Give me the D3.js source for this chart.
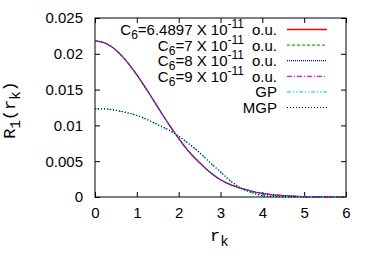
<!DOCTYPE html>
<html>
<head>
<meta charset="utf-8">
<script src="https://cdn.jsdelivr.net/npm/d3@7"></script>
<style>
  body { margin: 0; background: #fff; }
  svg { display: block; }
  .tick text { font-family: "Liberation Sans", Arial, sans-serif; font-size: 15px; }
</style>
</head>
<body>
<div id="chart"></div>
<script>
// r_k 取樣點
const rk = [0, 0.25, 0.5, 0.75, 1, 1.25, 1.5, 1.75, 2, 2.25, 2.5, 2.75, 3, 3.25, 3.5, 3.75, 4, 4.25, 4.5, 5, 5.5, 6];

// 四條 C6 曲線幾乎重疊
const c6a = [0.0218, 0.02147, 0.02051, 0.01899, 0.01706, 0.01487, 0.01256, 0.01029, 0.00818, 0.0063, 0.0048, 0.00345, 0.0024, 0.0017, 0.0012, 0.0008, 0.0005, 0.0003, 0.0002, 0.00005, 0.00001, 0];
const c6b = [0.0218, 0.02147, 0.02051, 0.01899, 0.01706, 0.01487, 0.01256, 0.01029, 0.00818, 0.0063, 0.0048, 0.00345, 0.0024, 0.0017, 0.0012, 0.0008, 0.0005, 0.0003, 0.0002, 0.00005, 0.00001, 0];
const c6c = [0.0218, 0.02147, 0.02051, 0.01899, 0.01706, 0.01487, 0.01256, 0.01029, 0.00818, 0.0063, 0.0048, 0.00345, 0.0024, 0.0017, 0.0012, 0.0008, 0.0005, 0.0003, 0.0002, 0.00005, 0.00001, 0];
const c6d = [0.0218, 0.02147, 0.02051, 0.01899, 0.01706, 0.01487, 0.01256, 0.01029, 0.00818, 0.0063, 0.0048, 0.00345, 0.0024, 0.0017, 0.0012, 0.0008, 0.0005, 0.0003, 0.0002, 0.00005, 0.00001, 0];
const gp  = [0.0123, 0.0123, 0.0121, 0.0118, 0.0114, 0.0108, 0.0101, 0.0094, 0.0085, 0.0074, 0.0062, 0.0048, 0.0035, 0.0022, 0.0012, 0.0006, 0.0002, 0.00008, 0.00002, 0, 0, 0];
const mgp = [0.0123, 0.0123, 0.0121, 0.0118, 0.0114, 0.0108, 0.0101, 0.0094, 0.0085, 0.0074, 0.0062, 0.0048, 0.0035, 0.0022, 0.0012, 0.0006, 0.0002, 0.00008, 0.00002, 0, 0, 0];

const xTicks = [0, 1, 2, 3, 4, 5, 6];
const yTicks = [0, 0.005, 0.01, 0.015, 0.02, 0.025];
const yTickLabels = ["0", "0.005", "0.01", "0.015", "0.02", "0.025"];

const series = [
  { mant: "6.4897", values: c6a, color: "#ff0000", dash: null, w: 1.5, op: 1 },
  { mant: "7", values: c6b, color: "#00c000", dash: "3,2", w: 1.2, op: 1 },
  { mant: "8", values: c6c, color: "#0000ff", dash: "1,1", w: 1.2, op: 1 },
  { mant: "9", values: c6d, color: "#ff00ff", dash: "5,2,1,2", w: 1.2, op: 0.55 },
  { name: "GP", values: gp, color: "#00e5e5", dash: "4,2,1,2,1,2", w: 1.2, op: 1 },
  { name: "MGP", values: mgp, color: "#000000", dash: "1,2", w: 1.2, op: 1 }
];

const width = 374, height = 262;
const margin = { left: 95, right: 28, top: 18, bottom: 65 };

const svg = d3.select("#chart").append("svg")
    .attr("width", width)
    .attr("height", height);

const x = d3.scaleLinear().domain([0, 6]).range([margin.left, width - margin.right]);
const y = d3.scaleLinear().domain([0, 0.025]).range([height - margin.bottom, margin.top]);

// 座標軸
svg.append("g")
    .attr("transform", `translate(0,${y(0)})`)
    .call(d3.axisBottom(x).tickValues(xTicks).tickSize(-5).tickPadding(10).tickFormat(d3.format("d")))
    .call(g => g.select(".domain").remove());

svg.append("g")
    .attr("transform", `translate(${x(0)},0)`)
    .call(d3.axisLeft(y).tickValues(yTicks).tickSize(-5).tickPadding(12).tickFormat((d, i) => yTickLabels[i]))
    .call(g => g.select(".domain").remove());

svg.append("g")
    .attr("transform", `translate(0,${y(0.025)})`)
    .call(d3.axisTop(x).tickValues(xTicks).tickSize(-5).tickFormat(""))
    .call(g => g.select(".domain").remove());

svg.append("g")
    .attr("transform", `translate(${x(6)},0)`)
    .call(d3.axisRight(y).tickValues(yTicks).tickSize(-5).tickFormat(""))
    .call(g => g.select(".domain").remove());

svg.selectAll(".tick text").attr("fill", "#000");
svg.selectAll(".tick line").attr("stroke", "#000");

svg.append("rect")
    .attr("x", x(0)).attr("y", y(0.025))
    .attr("width", x(6) - x(0)).attr("height", y(0) - y(0.025))
    .attr("fill", "none").attr("stroke", "#000").attr("stroke-width", 1);

// 曲線
const line = d3.line()
    .x((d, i) => x(rk[i]))
    .y(d => y(d))
    .curve(d3.curveMonotoneX);

series.forEach(s => {
  svg.append("path")
      .datum(s.values)
      .attr("fill", "none")
      .attr("stroke", s.color)
      .attr("stroke-width", 1.2)
      .attr("stroke-opacity", s.op)
      .attr("stroke-dasharray", s.dash)
      .attr("d", line);
});

// 圖例
const legend = svg.append("g");
series.forEach((s, i) => {
  const cy = 29.5 + i * 15.6;
  legend.append("line")
      .attr("x1", 287).attr("x2", 327)
      .attr("y1", cy).attr("y2", cy)
      .attr("stroke", s.color)
      .attr("stroke-width", s.w)
      .attr("stroke-dasharray", s.dash);
  const t = legend.append("text")
      .attr("x", 277).attr("y", cy + 5.5)
      .attr("text-anchor", "end")
      .style("font-family", "'Liberation Sans', Arial, sans-serif")
      .style("font-size", "15px");
  if (s.mant) {
    t.append("tspan").text("C");
    t.append("tspan").attr("dy", 4).style("font-size", "12px").text("6");
    t.append("tspan").attr("dy", -4).text(`=${s.mant} X 10`);
    t.append("tspan").attr("dy", -7).style("font-size", "12px").text("-11");
    t.append("tspan").attr("dy", 7).attr("dx", 8).text("o.u.");
  } else {
    t.text(s.name);
  }
});

// 軸標籤
const xl = svg.append("text")
    .attr("x", 210).attr("y", 241)
    .style("font-family", "'Liberation Mono', 'Courier New', monospace")
    .style("font-size", "17px");
xl.append("tspan").text("r");
xl.append("tspan").attr("dy", 5).style("font-size", "14px").text("k");

const yl = svg.append("text")
    .attr("transform", "translate(15,110) rotate(-90)")
    .attr("text-anchor", "middle")
    .style("font-family", "'Liberation Mono', 'Courier New', monospace")
    .style("font-size", "17px");
yl.append("tspan").text("R");
yl.append("tspan").attr("dy", 5).style("font-size", "14px").text("1");
yl.append("tspan").attr("dy", -5).text("(r");
yl.append("tspan").attr("dy", 5).style("font-size", "14px").text("k");
yl.append("tspan").attr("dy", -5).text(")");
</script>
</body>
</html>
